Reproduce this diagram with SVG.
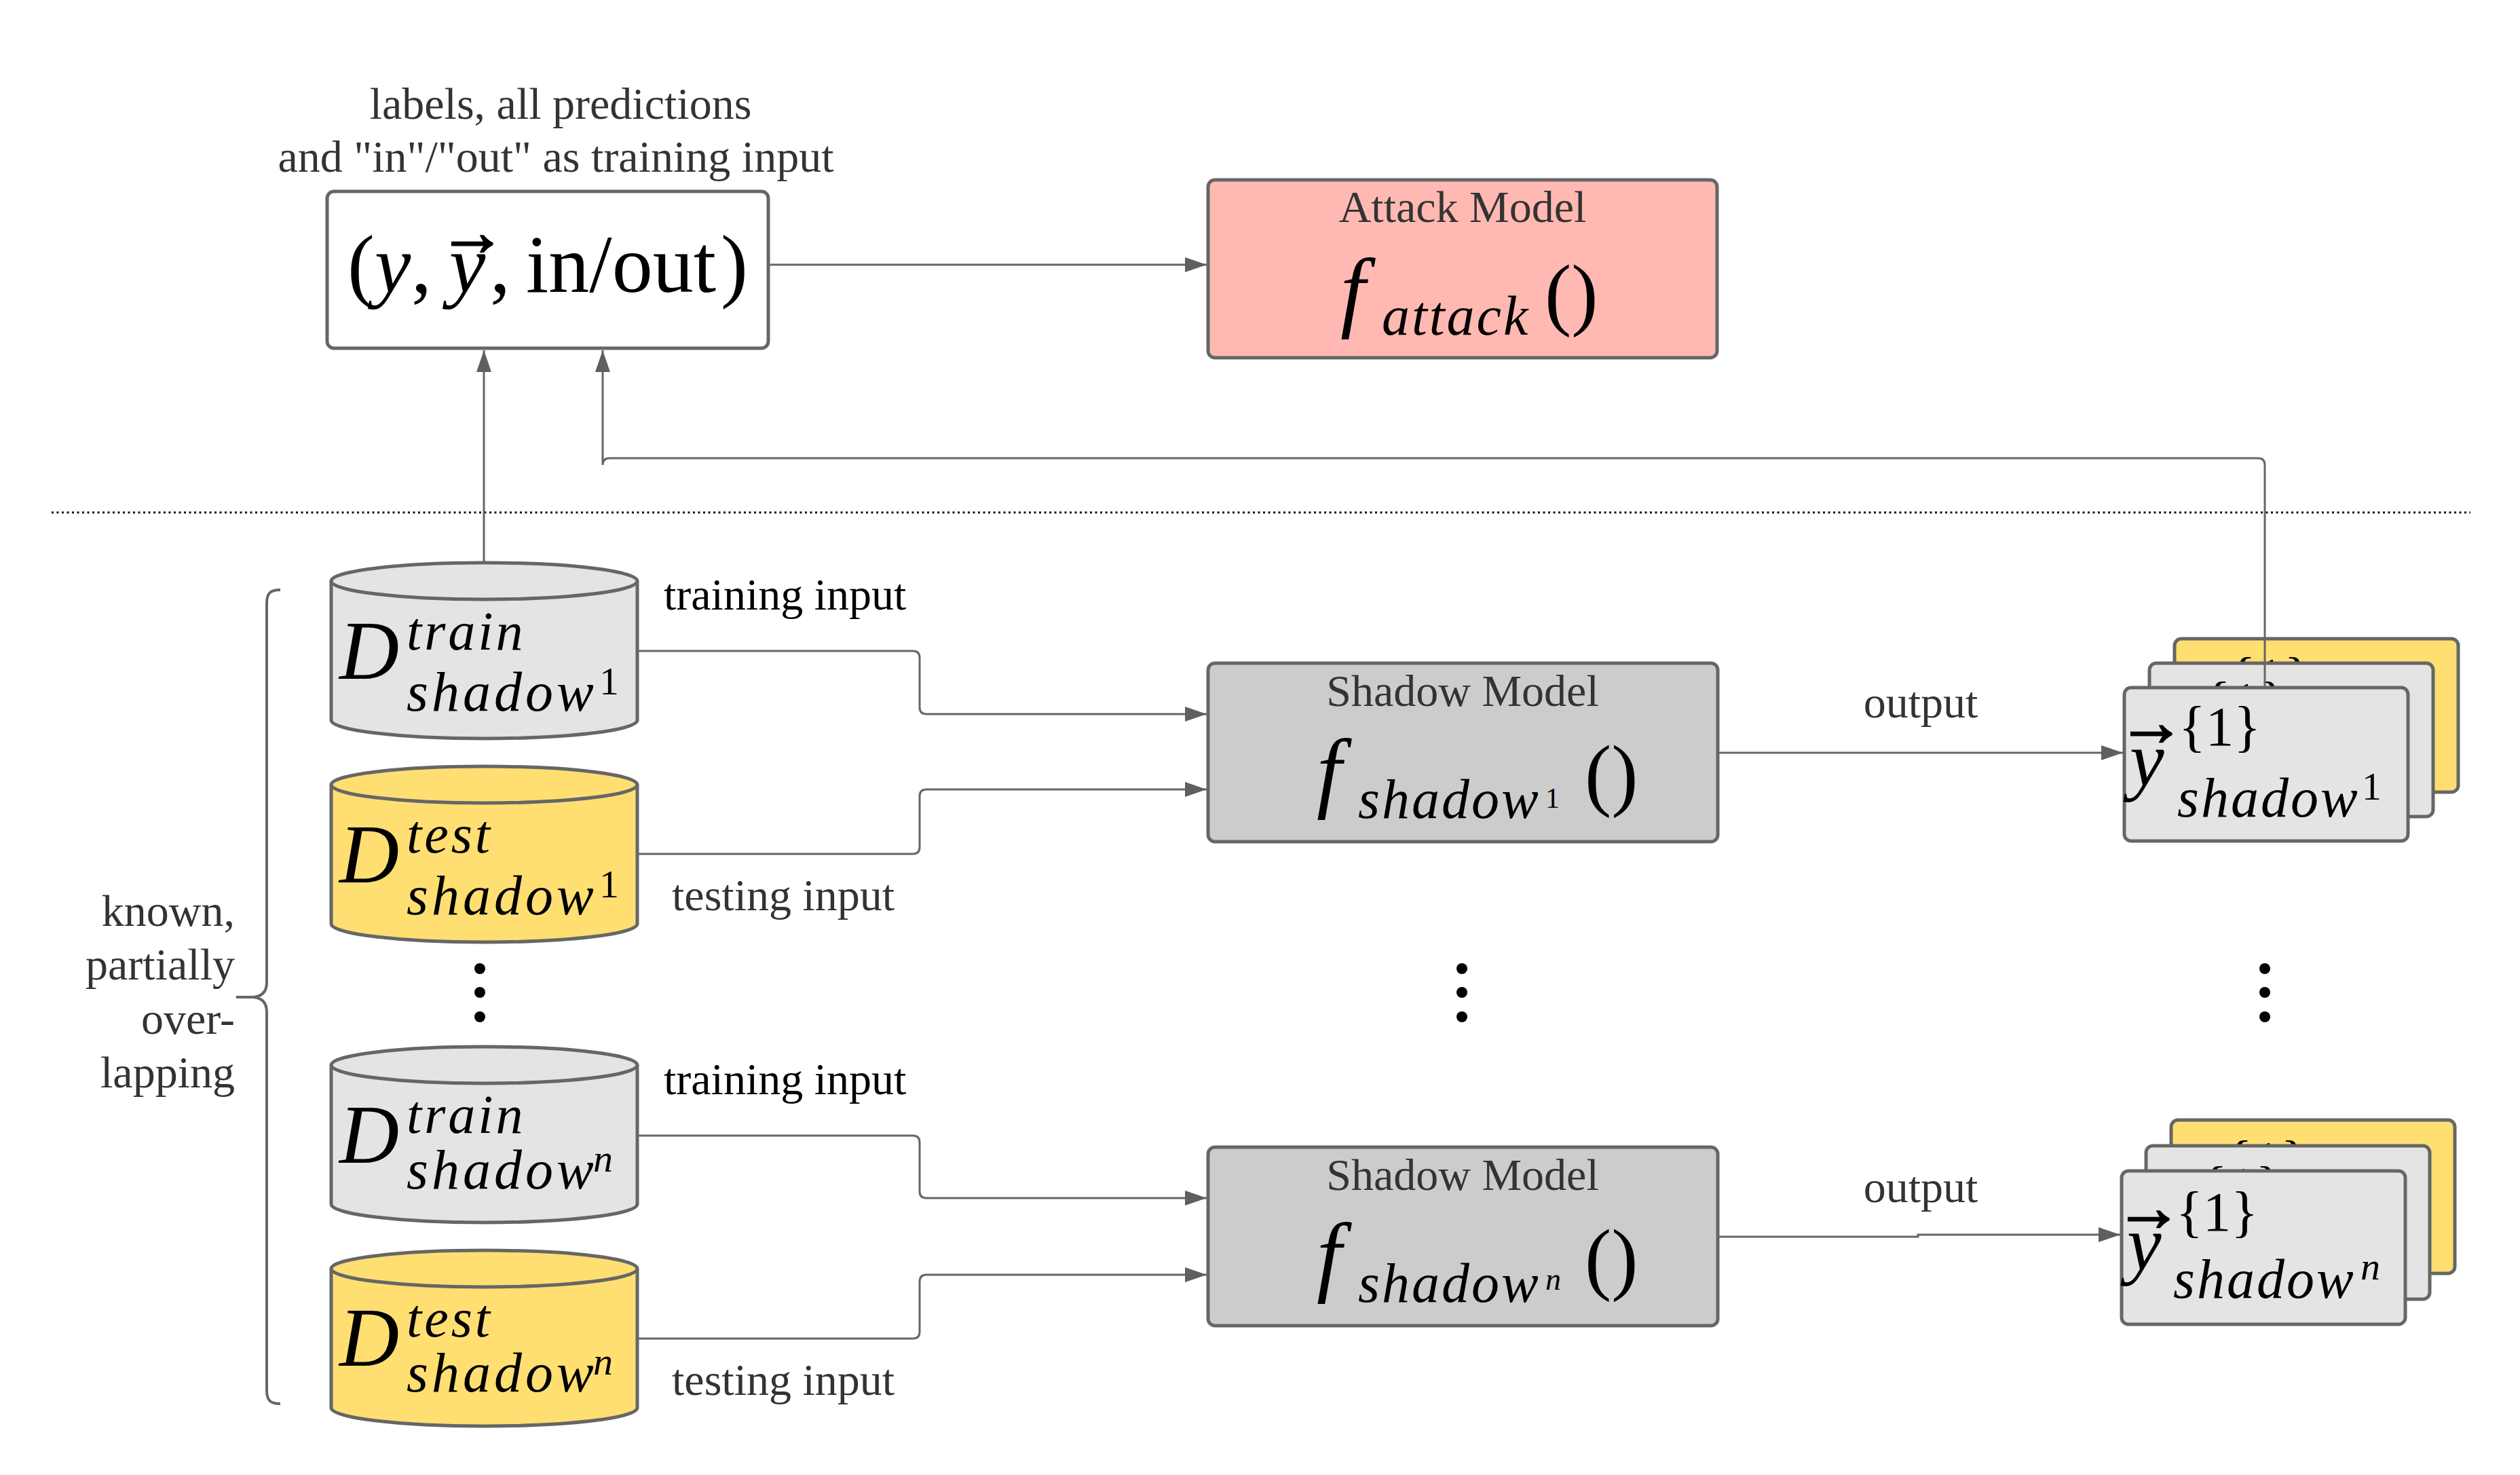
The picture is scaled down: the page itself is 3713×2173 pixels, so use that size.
<svg xmlns="http://www.w3.org/2000/svg" xmlns:xlink="http://www.w3.org/1999/xlink" width="3713" height="2173" viewBox="0 0 3713 2173">
<style>
.box{stroke:#666;stroke-width:5}
.conn{fill:none;stroke:#666;stroke-width:3}
.lbl{font-family:"Liberation Serif",serif;font-size:66px;fill:#333}
.lblk{font-family:"Liberation Serif",serif;font-size:66px;fill:#000}
.math{font-family:"Liberation Serif",serif;fill:#000}
.vec{font-family:"Liberation Serif",serif;fill:#000;stroke:#000;stroke-width:2.5;font-size:100px;text-anchor:middle}
.it{font-style:italic}
.gray{fill:#e4e4e4}
.yel{fill:#ffdf72}
.dot{fill:#000}
</style>
<defs>
<marker id="arr" markerUnits="userSpaceOnUse" markerWidth="32" markerHeight="22" refX="32" refY="11" orient="auto">
<path d="M0,0 L32,11 L0,22 Z" fill="#5f5f5f"/>
</marker>
<path id="cylBody" d="M488,27 L488,232 A225.5,27 0 0 0 939,232 L939,27 A225.5,27 0 0 0 488,27 Z"/>
<path id="cylRim" d="M488,27 A225.5,27 0 0 0 939,27"/>
</defs>
<rect width="3713" height="2173" fill="#fff"/>

<!-- separator -->
<line x1="76" y1="755" x2="3640" y2="755" stroke="#111" stroke-width="3" stroke-dasharray="3,4.5"/>

<!-- top combined input box -->
<g id="attack-input">
<text class="lbl" text-anchor="middle"><tspan x="826" y="175">labels, all predictions</tspan><tspan x="819" y="253">and "in"/"out" as training input</tspan></text>
<rect class="box" x="482" y="282" width="650" height="231" rx="10" fill="#fff"/>
<text class="math" font-size="120"><tspan x="512" y="430">(</tspan><tspan x="552" y="430" class="it">y</tspan><tspan x="606" y="430">,</tspan><tspan x="662" y="430" class="it">y</tspan><tspan x="722" y="430">,</tspan><tspan x="775" y="430">in/out</tspan><tspan x="1062" y="430">)</tspan></text>
<text class="vec" x="696" y="376">→</text>
</g>

<!-- attack model -->
<g id="attack-model">
<rect class="box" x="1780" y="265" width="750" height="262" rx="10" fill="#ffb9b2"/>
<text class="lbl" text-anchor="middle" x="2155" y="327">Attack Model</text>
<text class="math"><tspan x="1975" y="472" class="it" font-size="132">f</tspan><tspan x="2036" y="493" class="it" font-size="82" letter-spacing="3">attack</tspan><tspan x="2276" y="472" font-size="118">()</tspan></text>
</g>

<!-- brace + label -->
<g id="known-brace">
<path d="M413,869 C398,869 393,874 393,889 L393,1447 C393,1462 385,1469 370,1469 L348,1469 M370,1469 C385,1469 393,1476 393,1491 L393,2048 C393,2063 398,2068 413,2068" fill="none" stroke="#666" stroke-width="4"/>
<text class="lbl" text-anchor="end"><tspan x="346" y="1364">known,</tspan><tspan x="346" y="1443">partially</tspan><tspan x="346" y="1523">over-</tspan><tspan x="346" y="1602">lapping</tspan></text>
</g>

<!-- cylinders -->
<g id="d-train-1">
<use xlink:href="#cylBody" y="829" class="gray box"/>
<use xlink:href="#cylRim" y="829" class="box" fill="none"/>
<text class="math"><tspan x="500" y="1000" class="it" font-size="122">D</tspan><tspan x="599" y="957" class="it" font-size="80" letter-spacing="4">train</tspan><tspan x="599" y="1047" class="it" font-size="82" letter-spacing="5">shadow</tspan><tspan x="883" y="1023" font-size="58">1</tspan></text>
</g>
<g id="d-test-1">
<use xlink:href="#cylBody" y="1129" class="yel box"/>
<use xlink:href="#cylRim" y="1129" class="box" fill="none"/>
<text class="math"><tspan x="500" y="1300" class="it" font-size="122">D</tspan><tspan x="599" y="1256" class="it" font-size="80" letter-spacing="4">test</tspan><tspan x="599" y="1347" class="it" font-size="82" letter-spacing="5">shadow</tspan><tspan x="883" y="1322" font-size="58">1</tspan></text>
</g>
<g id="d-train-n">
<use xlink:href="#cylBody" y="1542" class="gray box"/>
<use xlink:href="#cylRim" y="1542" class="box" fill="none"/>
<text class="math"><tspan x="500" y="1713" class="it" font-size="122">D</tspan><tspan x="599" y="1669" class="it" font-size="80" letter-spacing="4">train</tspan><tspan x="599" y="1751" class="it" font-size="82" letter-spacing="5">shadow</tspan><tspan x="874" y="1726" class="it" font-size="58">n</tspan></text>
</g>
<g id="d-test-n">
<use xlink:href="#cylBody" y="1842" class="yel box"/>
<use xlink:href="#cylRim" y="1842" class="box" fill="none"/>
<text class="math"><tspan x="500" y="2012" class="it" font-size="122">D</tspan><tspan x="599" y="1969" class="it" font-size="80" letter-spacing="4">test</tspan><tspan x="599" y="2050" class="it" font-size="82" letter-spacing="5">shadow</tspan><tspan x="874" y="2025" class="it" font-size="58">n</tspan></text>
</g>

<!-- shadow models -->
<g id="shadow-model-1">
<rect class="box" x="1780" y="977" width="751" height="263" rx="10" fill="#cccccc"/>
<text class="lbl" text-anchor="middle" x="2155" y="1040">Shadow Model</text>
<text class="math"><tspan x="1940" y="1180" class="it" font-size="132">f</tspan><tspan x="2001" y="1205" class="it" font-size="82" letter-spacing="3">shadow</tspan><tspan x="2277" y="1190" font-size="42">1</tspan><tspan x="2335" y="1180" font-size="118">()</tspan></text>
</g>
<g id="shadow-model-n">
<rect class="box" x="1780" y="1690" width="751" height="263" rx="10" fill="#cccccc"/>
<text class="lbl" text-anchor="middle" x="2155" y="1753">Shadow Model</text>
<text class="math"><tspan x="1940" y="1893" class="it" font-size="132">f</tspan><tspan x="2001" y="1918" class="it" font-size="82" letter-spacing="3">shadow</tspan><tspan x="2277" y="1900" class="it" font-size="46">n</tspan><tspan x="2335" y="1893" font-size="118">()</tspan></text>
</g>

<!-- output cards set 1 -->
<g id="output-1">
<g id="output-1-back">
<rect class="box yel" x="3204" y="941" width="418" height="226" rx="10"/>
<text class="math" x="3284" y="1026" font-size="83">{1}</text>
</g>
<g id="output-1-mid">
<rect class="box gray" x="3167" y="977" width="418" height="226" rx="10"/>
<text class="math" x="3247" y="1062" font-size="83">{1}</text>
</g>
<g id="output-1-front">
<rect class="box gray" x="3130" y="1013" width="418" height="226" rx="10"/>
<text class="vec" x="3170" y="1098">→</text>
<text class="math"><tspan x="3138" y="1158" class="it" font-size="114">y</tspan><tspan x="3210" y="1098" font-size="83">{1}</tspan><tspan x="3208" y="1203" class="it" font-size="82" letter-spacing="3">shadow</tspan><tspan x="3480" y="1178" font-size="58">1</tspan></text>
</g>
</g>

<!-- output cards set n -->
<g id="output-n">
<g id="output-n-back">
<rect class="box yel" x="3199" y="1650" width="418" height="226" rx="10"/>
<text class="math" x="3279" y="1738" font-size="83">{1}</text>
</g>
<g id="output-n-mid">
<rect class="box gray" x="3162" y="1688" width="418" height="226" rx="10"/>
<text class="math" x="3242" y="1776" font-size="83">{1}</text>
</g>
<g id="output-n-front">
<rect class="box gray" x="3126" y="1725" width="418" height="226" rx="10"/>
<text class="vec" x="3166" y="1813">→</text>
<text class="math"><tspan x="3134" y="1871" class="it" font-size="114">y</tspan><tspan x="3206" y="1813" font-size="83">{1}</tspan><tspan x="3202" y="1912" class="it" font-size="82" letter-spacing="3">shadow</tspan><tspan x="3478" y="1885" class="it" font-size="58">n</tspan></text>
</g>
</g>

<!-- ellipsis dots -->
<g id="ellipsis">
<circle class="dot" cx="707" cy="1427" r="8"/><circle class="dot" cx="707" cy="1462" r="8"/><circle class="dot" cx="707" cy="1498" r="8"/>
<circle class="dot" cx="2154" cy="1427" r="8"/><circle class="dot" cx="2154" cy="1462" r="8"/><circle class="dot" cx="2154" cy="1498" r="8"/>
<circle class="dot" cx="3337" cy="1427" r="8"/><circle class="dot" cx="3337" cy="1462" r="8"/><circle class="dot" cx="3337" cy="1498" r="8"/>
</g>

<!-- connectors -->
<g id="connectors">
<path class="conn" d="M1132,390 L1778,390" marker-end="url(#arr)"/>
<path class="conn" d="M713,829 L713,516" marker-end="url(#arr)"/>
<path class="conn" d="M3337,1013 L3337,685 Q3337,675 3327,675 L898,675 Q888,675 888,685 L888,516" marker-end="url(#arr)"/>
<path class="conn" d="M939,959 L1345,959 Q1355,959 1355,969 L1355,1042 Q1355,1052 1365,1052 L1778,1052" marker-end="url(#arr)"/>
<path class="conn" d="M939,1258 L1345,1258 Q1355,1258 1355,1248 L1355,1173 Q1355,1163 1365,1163 L1778,1163" marker-end="url(#arr)"/>
<path class="conn" d="M2531,1109 L3128,1109" marker-end="url(#arr)"/>
<path class="conn" d="M939,1673 L1345,1673 Q1355,1673 1355,1683 L1355,1755 Q1355,1765 1365,1765 L1778,1765" marker-end="url(#arr)"/>
<path class="conn" d="M939,1972 L1345,1972 Q1355,1972 1355,1962 L1355,1888 Q1355,1878 1365,1878 L1778,1878" marker-end="url(#arr)"/>
<path class="conn" d="M2531,1822 L2826,1822 L2826,1819 L3124,1819" marker-end="url(#arr)"/>
</g>

<!-- connector labels -->
<g id="connector-labels">
<text class="lblk" x="978" y="898">training input</text>
<text class="lbl" x="990" y="1341">testing input</text>
<text class="lblk" x="978" y="1612">training input</text>
<text class="lbl" x="990" y="2055">testing input</text>
<text class="lbl" text-anchor="middle" x="2830" y="1057">output</text>
<text class="lbl" text-anchor="middle" x="2830" y="1771">output</text>
</g>
</svg>
